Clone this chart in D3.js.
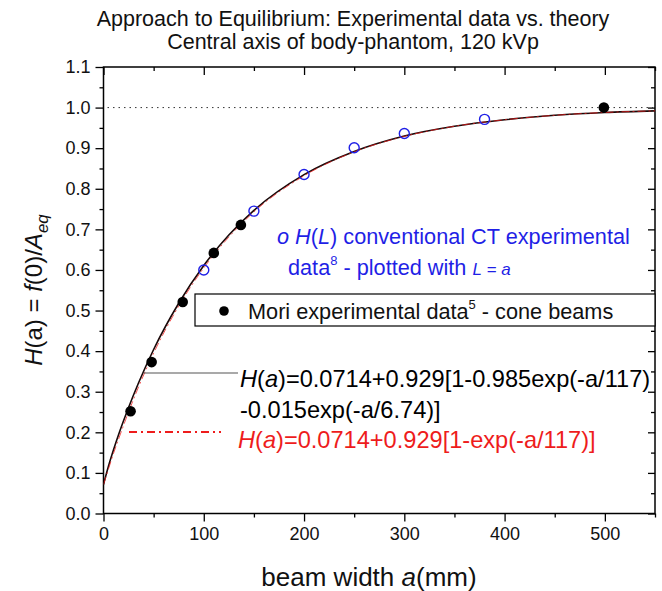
<!DOCTYPE html>
<html>
<head>
<meta charset="utf-8">
<script src="https://cdn.jsdelivr.net/npm/d3@7"></script>
<style>
  body { margin: 0; background: #fff; }
  svg { display: block; font-family: "Liberation Sans", Arial, sans-serif; }
</style>
</head>
<body>
<svg id="chart" width="662" height="591"></svg>
<script>
// ---- data ----
const moriA = [27, 48, 79, 110, 137, 499];
const moriH = [0.252, 0.373, 0.521, 0.642, 0.711, 1.0];

const ctA = [100, 150, 200, 250, 300, 380];
const ctH = [0.60, 0.745, 0.835, 0.901, 0.936, 0.971];

const curveA   = [0, 5, 10, 15, 25, 35, 50, 75, 100, 125, 150, 200, 250, 300, 350, 400, 450, 500, 550];
const fitTwoH  = [0.0714, 0.117, 0.157, 0.194, 0.261, 0.322, 0.404, 0.518, 0.611, 0.686, 0.747, 0.835, 0.892, 0.930, 0.954, 0.970, 0.981, 0.988, 0.992];
const fitOneH  = [0.0714, 0.110, 0.148, 0.183, 0.250, 0.312, 0.395, 0.511, 0.605, 0.681, 0.743, 0.832, 0.891, 0.929, 0.954, 0.970, 0.981, 0.988, 0.992];

const xTicks = [0, 100, 200, 300, 400, 500];
const xMinor = [50, 150, 250, 350, 450, 550];
const yTicks = [0, 0.1, 0.2, 0.3, 0.4, 0.5, 0.6, 0.7, 0.8, 0.9, 1.0, 1.1];
const yMinor = [0.05, 0.15, 0.25, 0.35, 0.45, 0.55, 0.65, 0.75, 0.85, 0.95, 1.05];
const eqLevel = [1.0];

const titleLines = ["Approach to Equilibrium: Experimental data vs. theory",
                    "Central axis of body-phantom, 120 kVp"];

// ---- layout ----
const svg = d3.select("#chart");
const L = 103.5, R = 655, T = 67, B = 513.5;
const x = d3.scaleLinear().domain([0, 550]).range([L, R]);
const y = d3.scaleLinear().domain([0, 1.1]).range([B, T]);
const BLUE = "#1f1fe6", RED = "#ee1c1c";

// title
svg.selectAll("text.title").data(titleLines).join("text")
  .attr("class", "title")
  .attr("x", 353).attr("y", (d, i) => 26 + i * 23)
  .attr("text-anchor", "middle").attr("font-size", 21.5).attr("fill", "#111")
  .text(d => d);

// axes
function styleAxis(g) {
  g.select(".domain").remove();
  g.selectAll("line").attr("stroke", "#000").attr("stroke-width", 1.3);
  g.selectAll("text").attr("font-size", 18).attr("fill", "#111")
   .attr("font-family", "Liberation Sans, Arial, sans-serif");
}
svg.append("g").attr("transform", `translate(0,${B})`)
  .call(d3.axisBottom(x).tickValues(xTicks).tickSize(8).tickPadding(6).tickFormat(d3.format("d")))
  .call(styleAxis);
svg.append("g").attr("transform", `translate(0,${B})`)
  .call(d3.axisBottom(x).tickValues(xMinor).tickSize(4).tickFormat(""))
  .call(styleAxis);
svg.append("g").attr("transform", `translate(${L},0)`)
  .call(d3.axisLeft(y).tickValues(yTicks).tickSize(8).tickPadding(5).tickFormat(d3.format(".1f")))
  .call(styleAxis);
svg.append("g").attr("transform", `translate(${L},0)`)
  .call(d3.axisLeft(y).tickValues(yMinor).tickSize(4).tickFormat(""))
  .call(styleAxis);
svg.append("g").attr("transform", `translate(0,${T})`)
  .call(d3.axisTop(x).tickValues(xTicks).tickSize(-8).tickFormat(""))
  .call(styleAxis);
svg.append("g").attr("transform", `translate(0,${T})`)
  .call(d3.axisTop(x).tickValues(xMinor).tickSize(-4).tickFormat(""))
  .call(styleAxis);
svg.append("g").attr("transform", `translate(${R},0)`)
  .call(d3.axisRight(y).tickValues(yTicks).tickSize(-7).tickFormat(""))
  .call(styleAxis);
svg.append("g").attr("transform", `translate(${R},0)`)
  .call(d3.axisRight(y).tickValues(yMinor).tickSize(-4).tickFormat(""))
  .call(styleAxis);

// frame
svg.append("rect").attr("x", L).attr("y", T).attr("width", R - L).attr("height", B - T)
  .attr("fill", "none").attr("stroke", "#000").attr("stroke-width", 1.5);

// equilibrium dotted line
svg.selectAll("line.eq").data(eqLevel).join("line").attr("class", "eq")
  .attr("x1", x(0) + 4).attr("x2", R - 2).attr("y1", d => y(d)).attr("y2", d => y(d))
  .attr("stroke", "#333").attr("stroke-width", 1).attr("stroke-dasharray", "1.5,4");

// curves
svg.append("clipPath").attr("id", "plotclip").append("rect")
  .attr("x", L).attr("y", T).attr("width", R - L).attr("height", B - T);
const line = d3.line().x(d => x(d[0])).y(d => y(d[1])).curve(d3.curveMonotoneX);
svg.append("path").datum(curveA.map((a, i) => [a, fitTwoH[i]]))
  .attr("d", line).attr("fill", "none").attr("stroke", "#1a0a0a").attr("stroke-width", 1.6)
  .attr("clip-path", "url(#plotclip)");
svg.append("path").datum(curveA.map((a, i) => [a, fitOneH[i]]))
  .attr("d", line).attr("fill", "none").attr("stroke", RED).attr("stroke-width", 1)
  .attr("stroke-opacity", 0.75).attr("stroke-dasharray", "8,3,2,3")
  .attr("clip-path", "url(#plotclip)");

// data points
svg.selectAll("circle.ct").data(ctA.map((a, i) => [a, ctH[i]])).join("circle")
  .attr("class", "ct").attr("cx", d => x(d[0])).attr("cy", d => y(d[1])).attr("r", 5)
  .attr("fill", "none").attr("stroke", BLUE).attr("stroke-width", 1.4);
svg.selectAll("circle.mori").data(moriA.map((a, i) => [a, moriH[i]])).join("circle")
  .attr("class", "mori").attr("cx", d => x(d[0])).attr("cy", d => y(d[1])).attr("r", 5.3)
  .attr("fill", "#000");

// blue annotation
const t1 = svg.append("text").attr("x", 277).attr("y", 244).attr("font-size", 21.7).attr("fill", BLUE);
t1.append("tspan").attr("font-style", "italic").text("o ");
t1.append("tspan").attr("font-style", "italic").text("H");
t1.append("tspan").text("(");
t1.append("tspan").attr("font-style", "italic").text("L");
t1.append("tspan").text(") conventional CT experimental");
const t2 = svg.append("text").attr("x", 288).attr("y", 275).attr("font-size", 21.7).attr("fill", BLUE);
t2.append("tspan").text("data");
t2.append("tspan").attr("font-size", 13).attr("dy", -10).text("8");
t2.append("tspan").attr("dy", 10).text(" - plotted with ");
t2.append("tspan").attr("font-size", 17).attr("font-style", "italic").text("L");
t2.append("tspan").attr("font-size", 17).text(" = ");
t2.append("tspan").attr("font-size", 17).attr("font-style", "italic").text("a");

// Mori legend box
svg.append("rect").attr("x", 195).attr("y", 294).attr("width", R - 195).attr("height", 32)
  .attr("fill", "#fff").attr("stroke", "#000").attr("stroke-width", 1.2);
svg.append("circle").attr("cx", 224).attr("cy", 311).attr("r", 4.8).attr("fill", "#000");
const t3 = svg.append("text").attr("x", 248).attr("y", 319).attr("font-size", 21.7).attr("fill", "#111");
t3.append("tspan").text("Mori experimental data");
t3.append("tspan").attr("font-size", 13).attr("dy", -10).text("5");
t3.append("tspan").attr("dy", 10).text(" - cone beams");

// formula legends
svg.append("line").attr("x1", x(40)).attr("x2", 238).attr("y1", 373).attr("y2", 373)
  .attr("stroke", "#555").attr("stroke-width", 1.2);
const f1 = svg.append("text").attr("x", 240).attr("y", 387).attr("font-size", 23.6).attr("fill", "#000");
f1.append("tspan").attr("font-style", "italic").text("H");
f1.append("tspan").text("(");
f1.append("tspan").attr("font-style", "italic").text("a");
f1.append("tspan").text(")=0.0714+0.929[1-0.985exp(-a/117)");
svg.append("text").attr("x", 240).attr("y", 418).attr("font-size", 23.6).attr("fill", "#000")
  .text("-0.015exp(-a/6.74)]");
svg.append("line").attr("x1", 129).attr("x2", 221).attr("y1", 432).attr("y2", 432)
  .attr("stroke", RED).attr("stroke-width", 2).attr("stroke-dasharray", "8,4,2,4");
const f2 = svg.append("text").attr("x", 238).attr("y", 448).attr("font-size", 23.6).attr("fill", RED);
f2.append("tspan").attr("font-style", "italic").text("H");
f2.append("tspan").text("(");
f2.append("tspan").attr("font-style", "italic").text("a");
f2.append("tspan").text(")=0.0714+0.929[1-exp(-a/117)]");

// axis titles
const xl = svg.append("text").attr("x", 369).attr("y", 586).attr("text-anchor", "middle")
  .attr("font-size", 26).attr("fill", "#111");
xl.append("tspan").text("beam width ");
xl.append("tspan").attr("font-style", "italic").text("a");
xl.append("tspan").text("(mm)");

const yl = svg.append("text").attr("transform", "translate(42,290) rotate(-90)")
  .attr("text-anchor", "middle").attr("font-size", 24).attr("fill", "#111");
yl.append("tspan").attr("font-style", "italic").text("H");
yl.append("tspan").text("(a) = ");
yl.append("tspan").attr("font-style", "italic").text("f");
yl.append("tspan").text("(0)/");
yl.append("tspan").attr("font-style", "italic").text("A");
yl.append("tspan").attr("font-style", "italic").attr("font-size", 17).attr("dy", 6).text("eq");
</script>
</body>
</html>
